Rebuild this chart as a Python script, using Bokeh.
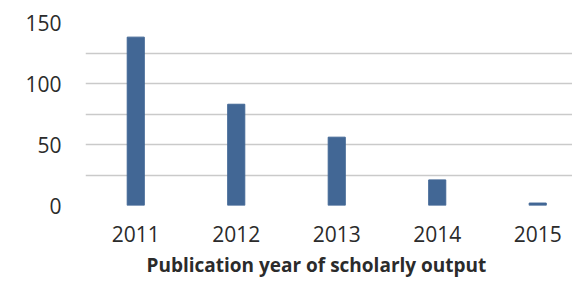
from bokeh.plotting import figure
from bokeh.models import Range1d, FixedTicker, ColumnDataSource, Title
from bokeh.embed import file_html
from bokeh.resources import INLINE

years = [2011, 2012, 2013, 2014, 2015]
counts = [138, 83, 56, 21, 2]
year_labels = ["2011", "2012", "2013", "2014", "2015"]
y_major = [0, 50, 100, 150]
y_minor = [25, 75, 125]
x_title = "Publication year of scholarly output"

src = ColumnDataSource(dict(x=years, top=counts))

p = figure(width=572, height=282, output_backend="svg", toolbar_location=None,
           x_range=Range1d(2010.5, 2015.346), y_range=Range1d(0, 150),
           min_border_left=85, min_border_right=0, min_border_top=22, min_border_bottom=77)
p.outline_line_color = None
p.background_fill_color = "white"
p.border_fill_color = "white"

p.vbar(x="x", top="top", width=0.17, source=src, color="#426795")

FONT = "Open Sans"
TXT = "#2b2b2b"

p.yaxis.ticker = FixedTicker(ticks=y_major, minor_ticks=y_minor)
p.yaxis.axis_line_color = None
p.yaxis.major_tick_line_color = None
p.yaxis.minor_tick_line_color = None
p.yaxis.major_label_standoff = 18
p.yaxis.major_label_text_font = FONT
p.yaxis.major_label_text_font_size = "21px"
p.yaxis.major_label_text_color = TXT

p.ygrid.grid_line_color = "#cacaca"
p.ygrid.grid_line_width = 1.5
p.ygrid.minor_grid_line_color = "#cacaca"
p.ygrid.minor_grid_line_width = 1.5
p.xgrid.grid_line_color = None

p.xaxis.ticker = FixedTicker(ticks=years)
p.xaxis.major_label_overrides = {y: l for y, l in zip(years, year_labels)}
p.xaxis.axis_line_color = None
p.xaxis.major_tick_line_color = None
p.xaxis.minor_tick_line_color = None
p.xaxis.major_label_standoff = 14
p.xaxis.major_label_text_font = FONT
p.xaxis.major_label_text_font_size = "21px"
p.xaxis.major_label_text_color = TXT

t = Title(text=x_title, align="left", offset=61, standoff=10,
          text_font=FONT, text_font_style="bold", text_font_size="19px",
          text_color=TXT)
p.add_layout(t, "below")

open("out.html", "w").write(file_html(p, INLINE))
